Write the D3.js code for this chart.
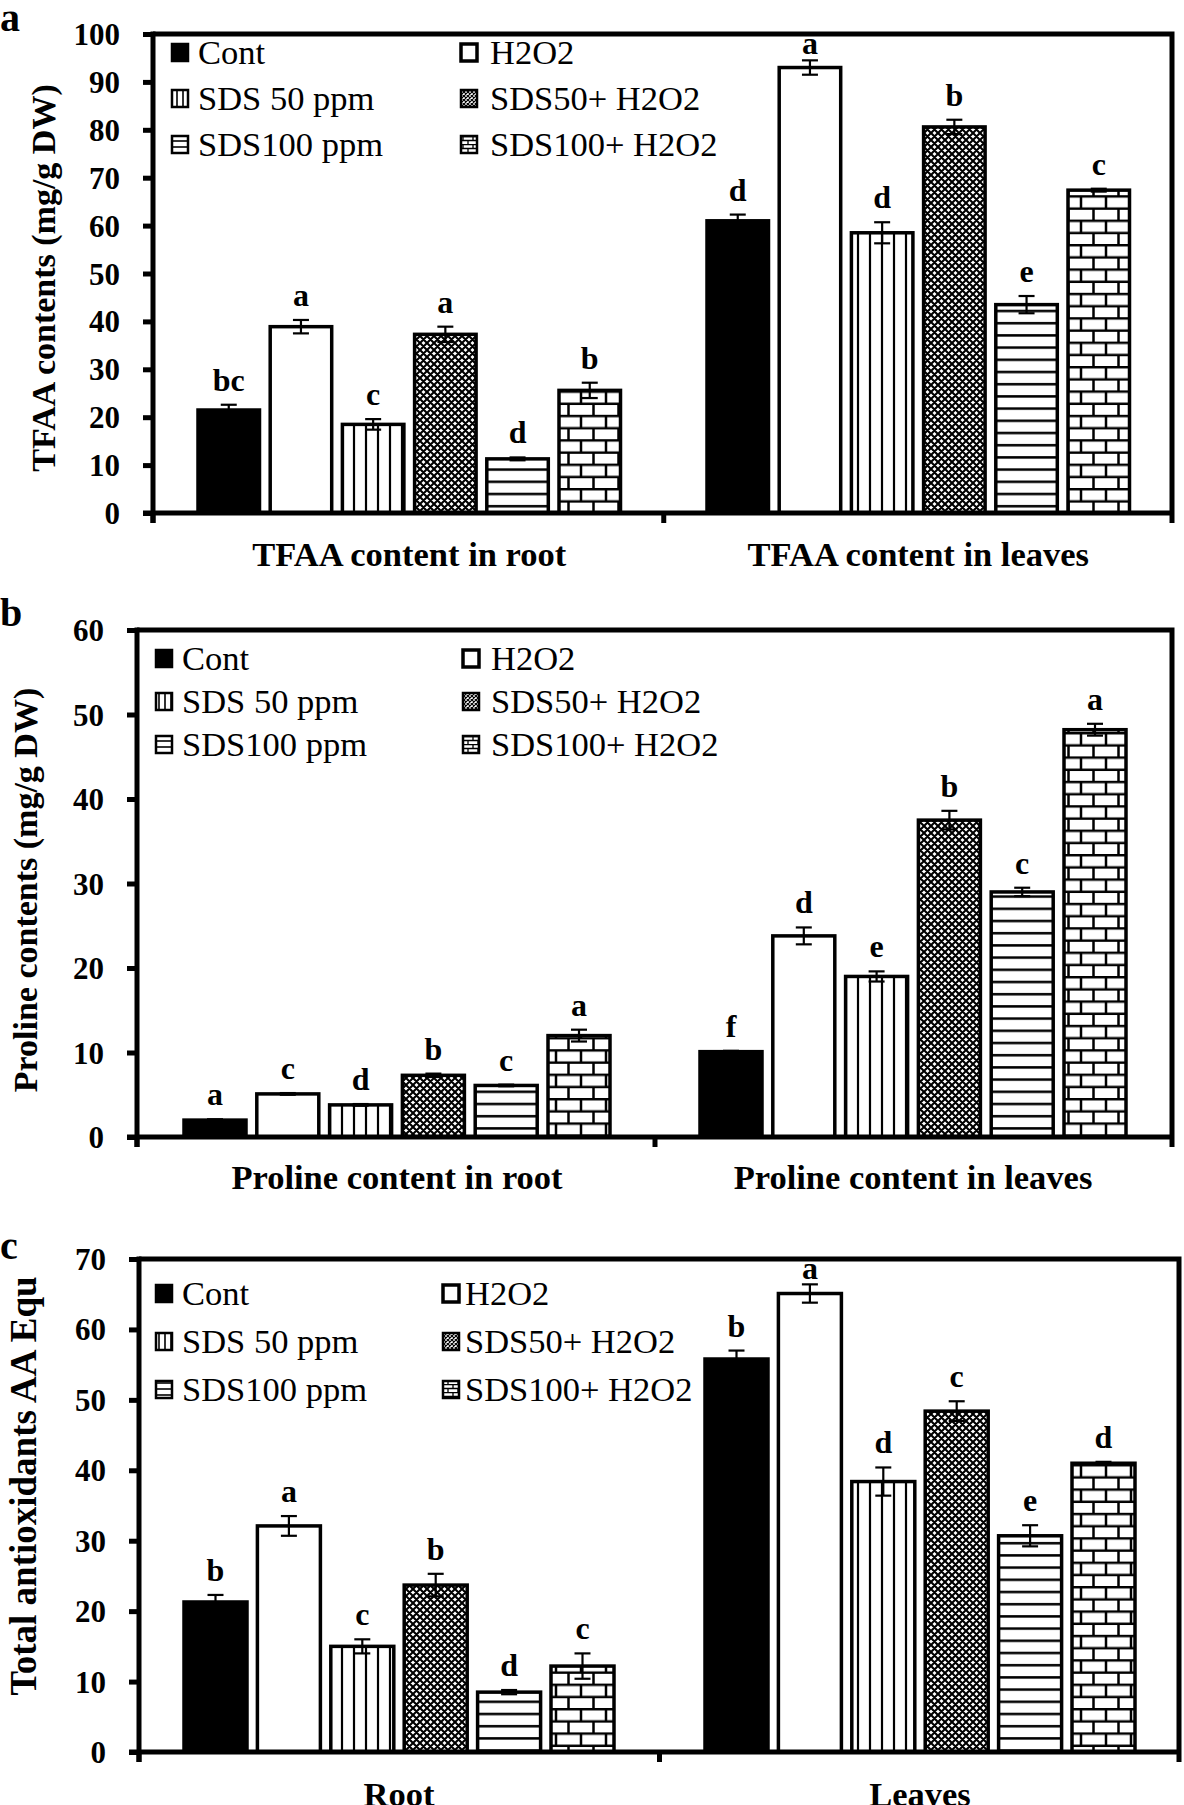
<!DOCTYPE html>
<html><head><meta charset="utf-8">
<script src="https://cdn.jsdelivr.net/npm/d3@7"></script>
<style>body{margin:0;background:#fff}svg{display:block}</style>
</head><body>
<svg id="chart" width="1184" height="1805"></svg>
<script>
// ---------------- DATA ----------------
const series = ["Cont", "H2O2", "SDS 50 ppm", "SDS50+ H2O2", "SDS100 ppm", "SDS100+ H2O2"];

const tfaaCategories = ["TFAA content in root", "TFAA content in leaves"];
const tfaaRoot      = [21.5, 38.9, 18.5, 37.3, 11.3, 25.6];
const tfaaRootErr   = [1.1, 1.4, 1.1, 1.6, 0.3, 1.6];
const tfaaRootSig   = ["bc", "a", "c", "a", "d", "b"];
const tfaaLeaves    = [61.0, 93.0, 58.5, 80.6, 43.5, 67.4];
const tfaaLeavesErr = [1.3, 1.5, 2.2, 1.5, 1.8, 0.3];
const tfaaLeavesSig = ["d", "a", "d", "b", "e", "c"];
const tfaaTicks = [0, 10, 20, 30, 40, 50, 60, 70, 80, 90, 100];

const prolineCategories = ["Proline content in root", "Proline content in leaves"];
const prolineRoot      = [2.0, 5.1, 3.8, 7.3, 6.1, 12.0];
const prolineRootErr   = [0.1, 0.1, 0.1, 0.2, 0.1, 0.7];
const prolineRootSig   = ["a", "c", "d", "b", "c", "a"];
const prolineLeaves    = [10.1, 23.8, 19.0, 37.5, 29.0, 48.2];
const prolineLeavesErr = [0.1, 1.0, 0.6, 1.1, 0.5, 0.7];
const prolineLeavesSig = ["f", "d", "e", "b", "c", "a"];
const prolineTicks = [0, 10, 20, 30, 40, 50, 60];

const antiCategories = ["Root", "Leaves"];
const antiRoot      = [21.3, 32.1, 15.0, 23.7, 8.5, 12.2];
const antiRootErr   = [1.0, 1.4, 1.0, 1.6, 0.3, 1.8];
const antiRootSig   = ["b", "a", "c", "b", "d", "c"];
const antiLeaves    = [55.8, 65.1, 38.4, 48.4, 30.7, 41.0];
const antiLeavesErr = [1.2, 1.3, 2.0, 1.4, 1.5, 0.2];
const antiLeavesSig = ["b", "a", "d", "c", "e", "d"];
const antiTicks = [0, 10, 20, 30, 40, 50, 60, 70];

// ---------------- STYLE / LAYOUT ----------------
const FONT = '"Liberation Serif", "Times New Roman", serif';
const svg = d3.select("#chart");
const defs = svg.append("defs");

function pattern(id, w, h, build) {
  const p = defs.append("pattern").attr("id", id).attr("patternUnits", "userSpaceOnUse")
    .attr("width", w).attr("height", h);
  p.append("rect").attr("width", w).attr("height", h).attr("fill", "#fff");
  build(p);
}
pattern("vert", 12, 10, p => p.append("line").attr("x1", 6).attr("x2", 6).attr("y1", -1).attr("y2", 11)
  .attr("stroke", "#000").attr("stroke-width", 2.2));
pattern("horiz", 10, 12.2, p => p.append("line").attr("x1", -1).attr("x2", 11).attr("y1", 6).attr("y2", 6)
  .attr("stroke", "#000").attr("stroke-width", 2.5));
pattern("check", 7, 7, p => p.append("path").attr("d", "M0,0L7,7M7,0L0,7M-1,1L1,-1M6,8L8,6M-1,6L1,8M6,-1L8,1")
  .attr("stroke", "#000").attr("stroke-width", 2.1).attr("fill", "none"));
pattern("brick", 25, 24.4, p => {
  p.append("path").attr("d", "M0,1.2H25M0,13.4H25M6,1.2V13.4M18.5,13.4V25.6")
    .attr("stroke", "#000").attr("stroke-width", 2.5).attr("fill", "none");
});
pattern("vertS", 6, 6, p => p.append("line").attr("x1", 3).attr("x2", 3).attr("y1", -1).attr("y2", 7)
  .attr("stroke", "#000").attr("stroke-width", 1.6));
pattern("horizS", 6, 6, p => p.append("line").attr("x1", -1).attr("x2", 7).attr("y1", 3).attr("y2", 3)
  .attr("stroke", "#000").attr("stroke-width", 1.6));
pattern("checkS", 4, 4, p => p.append("path").attr("d", "M0,0L4,4M4,0L0,4")
  .attr("stroke", "#000").attr("stroke-width", 1.2).attr("fill", "none"));
pattern("brickS", 10, 8, p => p.append("path").attr("d", "M0,0.5H10M0,4.5H10M3,0.5V4.5M8,4.5V8.5")
  .attr("stroke", "#000").attr("stroke-width", 1.3).attr("fill", "none"));

const fills = ["#000", "#fff", "url(#vert)", "url(#check)", "url(#horiz)", "url(#brick)"];
const fillsS = ["#000", "#fff", "url(#vertS)", "url(#checkS)", "url(#horizS)", "url(#brickS)"];

const panels = [
  { letter: "a", cats: tfaaCategories, vals: [tfaaRoot, tfaaLeaves], errs: [tfaaRootErr, tfaaLeavesErr],
    sig: [tfaaRootSig, tfaaLeavesSig], ticks: tfaaTicks, ymax: 100,
    title: "TFAA contents (mg/g DW)", titleX: 43, titleY: 278, titleSize: 34,
    left: 153, right: 1172, top: 34, base: 513, g0: 198, g1: 707, step: 72.2, bw: 61.5,
    catLabelY: 566, letterY: 31,
    legX: [172, 461], legTextX: [198, 490], legY: [52, 98, 144] },
  { letter: "b", cats: prolineCategories, vals: [prolineRoot, prolineLeaves], errs: [prolineRootErr, prolineLeavesErr],
    sig: [prolineRootSig, prolineLeavesSig], ticks: prolineTicks, ymax: 60,
    title: "Proline contents (mg/g DW)", titleX: 25, titleY: 890, titleSize: 34,
    left: 137, right: 1172, top: 630, base: 1137, g0: 184, g1: 700, step: 72.8, bw: 62,
    catLabelY: 1189, letterY: 626,
    legX: [156, 463], legTextX: [182, 491], legY: [658, 701, 744] },
  { letter: "c", cats: antiCategories, vals: [antiRoot, antiLeaves], errs: [antiRootErr, antiLeavesErr],
    sig: [antiRootSig, antiLeavesSig], ticks: antiTicks, ymax: 70,
    title: "Total antioxidants AA Equ", titleX: 23, titleY: 1486, titleSize: 37,
    left: 139, right: 1179, top: 1259, base: 1752, g0: 184, g1: 705, step: 73.4, bw: 63,
    catLabelY: 1806, letterY: 1259,
    legX: [156, 443], legTextX: [182, 465], legY: [1293, 1341, 1389] }
];

panels.forEach(P => {
  const g = svg.append("g");
  const y = d3.scaleLinear().domain([0, P.ymax]).range([P.base, P.top]);

  const groupW = 5 * P.step + P.bw;
  const S = P.g1 - P.g0;
  const xCat = d3.scaleBand().domain(P.cats).range([P.g0, P.g0 + S + groupW])
    .paddingInner(1 - groupW / S).paddingOuter(0);
  const xSer = d3.scaleBand().domain(series).range([0, xCat.bandwidth()])
    .paddingInner(1 - P.bw / P.step).paddingOuter(0);

  // frame (top + right)
  g.append("path").attr("d", `M${P.left},${P.top}H${P.right}V${P.base + 10}`)
    .attr("fill", "none").attr("stroke", "#000").attr("stroke-width", 5);

  // bars, error bars, significance letters
  P.cats.forEach((c, ci) => {
    series.forEach((s, si) => {
      const v = P.vals[ci][si], e = P.errs[ci][si];
      const x0 = xCat(c) + xSer(s), w = xSer.bandwidth();
      g.append("rect").attr("x", x0).attr("y", y(v)).attr("width", w).attr("height", y(0) - y(v))
        .attr("fill", fills[si]).attr("stroke", "#000").attr("stroke-width", 3.5);
      const cx = x0 + w / 2;
      const eb = g.append("g").attr("stroke", "#000").attr("stroke-width", 2.2);
      eb.append("line").attr("x1", cx).attr("x2", cx).attr("y1", y(v + e)).attr("y2", y(v - e));
      eb.append("line").attr("x1", cx - 8).attr("x2", cx + 8).attr("y1", y(v + e)).attr("y2", y(v + e));
      eb.append("line").attr("x1", cx - 8).attr("x2", cx + 8).attr("y1", y(v - e)).attr("y2", y(v - e));
      // labels are kept inside the plot area (as the spreadsheet does)
      const ly = Math.max(y(v + e) - 14, P.top + 20);
      g.append("text").attr("x", cx).attr("y", ly).attr("text-anchor", "middle")
        .attr("font-family", FONT).attr("font-weight", "bold").attr("font-size", 32).text(P.sig[ci][si]);
    });
  });

  // y axis
  const yAxis = d3.axisLeft(y).tickValues(P.ticks).tickSize(10).tickSizeOuter(0).tickPadding(23)
    .tickFormat(d3.format("d"));
  const ya = g.append("g").attr("transform", `translate(${P.left},0)`).call(yAxis);
  ya.select(".domain").attr("stroke-width", 5).attr("d", `M0,${P.base + 10}V${P.top - 2.5}`);
  ya.selectAll(".tick line").attr("stroke-width", 5);
  ya.selectAll(".tick text").attr("font-family", FONT).attr("font-weight", "bold")
    .attr("font-size", 31).attr("fill", "#000").attr("dy", "0.34em");

  // x axis baseline with tick marks at category boundaries
  const mid = (xCat(P.cats[0]) + xCat.bandwidth() + xCat(P.cats[1])) / 2;
  g.append("line").attr("x1", P.left - 10).attr("x2", P.right).attr("y1", P.base).attr("y2", P.base)
    .attr("stroke", "#000").attr("stroke-width", 5);
  [P.left, mid].forEach(tx => g.append("line").attr("x1", tx).attr("x2", tx)
    .attr("y1", P.base).attr("y2", P.base + 10).attr("stroke", "#000").attr("stroke-width", 5));

  // category labels
  P.cats.forEach(c => g.append("text").attr("x", xCat(c) + xCat.bandwidth() / 2).attr("y", P.catLabelY)
    .attr("text-anchor", "middle").attr("font-family", FONT).attr("font-weight", "bold")
    .attr("font-size", 34.5).text(c));

  // y title
  g.append("text").attr("transform", `translate(${P.titleX},${P.titleY}) rotate(-90)`)
    .attr("text-anchor", "middle").attr("dominant-baseline", "central")
    .attr("font-family", FONT).attr("font-weight", "bold").attr("font-size", P.titleSize).text(P.title);

  // panel letter
  g.append("text").attr("x", 0).attr("y", P.letterY).attr("font-family", FONT).attr("font-weight", "bold")
    .attr("font-size", 40).text(P.letter);

  // legend (3 rows x 2 columns)
  series.forEach((s, si) => {
    const col = si % 2, row = Math.floor(si / 2);
    const cy = P.legY[row];
    g.append("rect").attr("x", P.legX[col]).attr("y", cy - 8).attr("width", 16).attr("height", 17)
      .attr("fill", fillsS[si]).attr("stroke", "#000").attr("stroke-width", si === 1 ? 3.5 : 2.5);
    g.append("text").attr("x", P.legTextX[col]).attr("y", cy + 11.5).attr("font-family", FONT)
      .attr("font-size", 34.5).text(s);
  });
});
</script>
</body></html>
